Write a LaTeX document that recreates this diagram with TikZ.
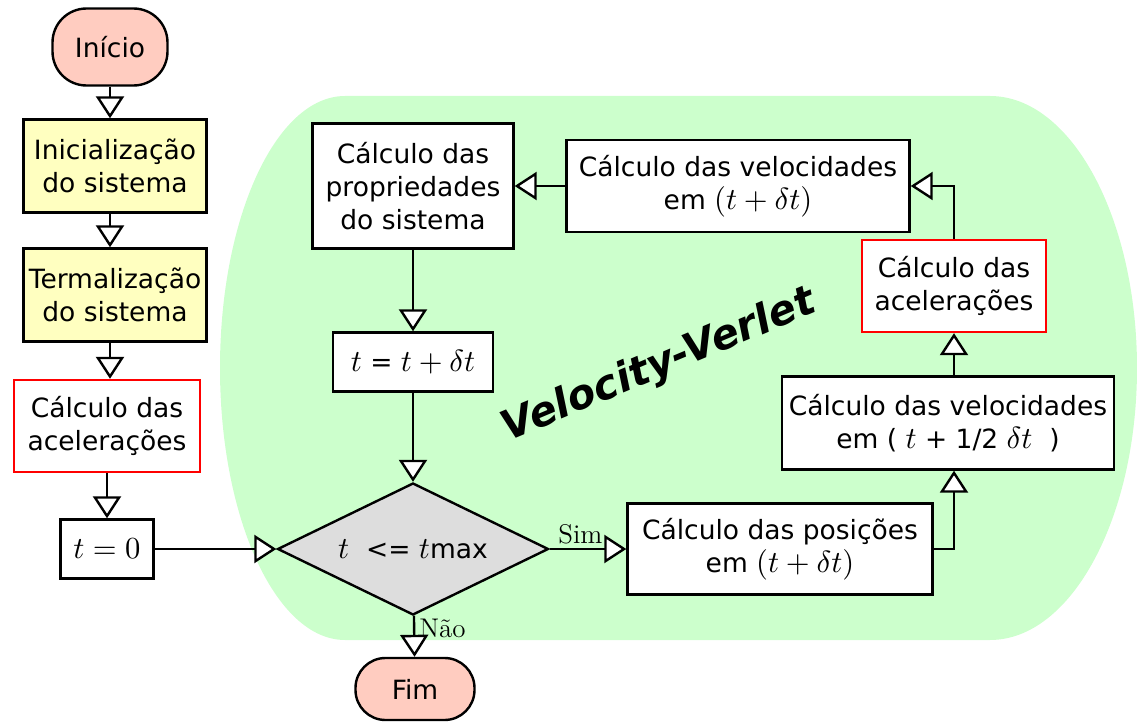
\documentclass[tikz,border=0pt]{standalone}
\usepackage[no-math]{fontspec}
\usepackage{tikz}
\usetikzlibrary{shapes.geometric, arrows.meta, calc}
\newfontfamily\dejavu{DejaVu Sans}
\definecolor{loopGreen}{HTML}{CCFFCC}
\definecolor{termFill}{HTML}{FFCCC0}
\definecolor{prepFill}{HTML}{FFFFC0}
\definecolor{testFill}{HTML}{DDDDDD}
\newcommand{\mth}[1]{\scalebox{1.53}{\fontsize{10}{12}\selectfont$#1$}}

\tikzset{
    every node/.style={font=\dejavu\fontsize{13.25}{16.5}\selectfont},
    box/.style={draw, line width=1.2pt, fill=white, align=center, inner sep=2pt},
    accbox/.style={box, draw=red},
    prep/.style={box, fill=prepFill, minimum width=91.5pt, minimum height=46.5pt},
    term/.style={box, fill=termFill, rounded corners=17pt},
    test/.style={diamond, draw, line width=1.2pt, fill=testFill, aspect=2.05, inner sep=0pt,
        minimum width=135.5pt, minimum height=66pt},
    flow/.style={line width=1.2pt, -{Triangle[fill=white, length=11pt, width=14pt]}},
    branch/.style={font=\rmfamily\fontsize{13.5}{15}\selectfont, inner sep=2pt},
}

\begin{document}
\begin{tikzpicture}[x=0.5pt, y=-0.5pt]
    \useasboundingbox (0,0) rectangle (1137,722);

    % loop region
    \fill[loopGreen] (345,96) -- (990,96)
        arc[start angle=90, end angle=-90, x radius=73.5pt, y radius=136pt]
        -- (345,640)
        arc[start angle=270, end angle=90, x radius=62.5pt, y radius=136pt] -- cycle;

    % left column
    \node[term, minimum width=57.5pt, minimum height=38.5pt] (inicio) at (110,47) {Início};
    \node[prep] (init) at (115,166) {Inicialização \\ do sistema};
    \node[prep] (termal) at (115,295) {Termalização\\do sistema};
    \node[accbox, minimum width=93pt, minimum height=46pt] (accL) at (107,426) {Cálculo das\\acelerações};
    \node[box, minimum width=46.5pt, minimum height=29.5pt] (tzero) at (107,549) {\mth{t=0}};

    % loop
    \node[test] (test) at (413,549) {\mth{t} \ <= \mth{t}max};
    \node[box, minimum width=100.5pt, minimum height=62.5pt] (props) at (413,186) {Cálculo das\\propriedades\\do sistema};
    \node[box, minimum width=80pt, minimum height=29.5pt] (tstep) at (413,362) {\mth{t} = \mth{t+\delta t}};
    \node[box, minimum width=171.5pt, minimum height=46pt] (velF) at (738,186) {Cálculo das velocidades\\em \mth{(t+\delta t)}};
    \node[accbox, minimum width=92pt, minimum height=46pt] (accR) at (954,286) {Cálculo das\\acelerações};
    \node[box, minimum width=166pt, minimum height=46.5pt] (velH) at (948,423) {Cálculo das velocidades\\em ( \mth{t} + 1/2 \mth{\delta t} \ )};
    \node[box, minimum width=152.5pt, minimum height=45.5pt] (pos) at (780,549) {Cálculo das posições\\em \mth{(t+\delta t)}};
    \node[term, minimum width=59.5pt, minimum height=31pt, rounded corners=15pt] (fim) at (415,689) {Fim};

    \node[font=\dejavu\bfseries\itshape\fontsize{20.5}{24}\selectfont, rotate=22.8] (vv) at (659,366) {Velocity-Verlet};

    % connectors
    \draw[flow] (inicio) -- (inicio |- init.north);
    \draw[flow] (init.south -| inicio) -- (inicio |- termal.north);
    \draw[flow] (termal.south -| inicio) -- (inicio |- accL.north);
    \draw[flow] (accL) -- (tzero);
    \draw[flow] (tzero) -- (test);
    \draw[flow] (test) -- node[branch, above, pos=0.4] (sim) {Sim} (pos);
    \draw[flow] (pos.east) -| (accR.south |- velH.south);
    \draw[flow] (velH.north -| accR.south) -- (accR.south);
    \draw[flow] (accR.north) |- (velF.east);
    \draw[flow] (velF) -- (props);
    \draw[flow] (props) -- (tstep);
    \draw[flow] (tstep) -- (test);
    \draw[flow] (test) -- node[branch, right, pos=0.3] (nao) {Não} (fim);
\end{tikzpicture}
\end{document}
